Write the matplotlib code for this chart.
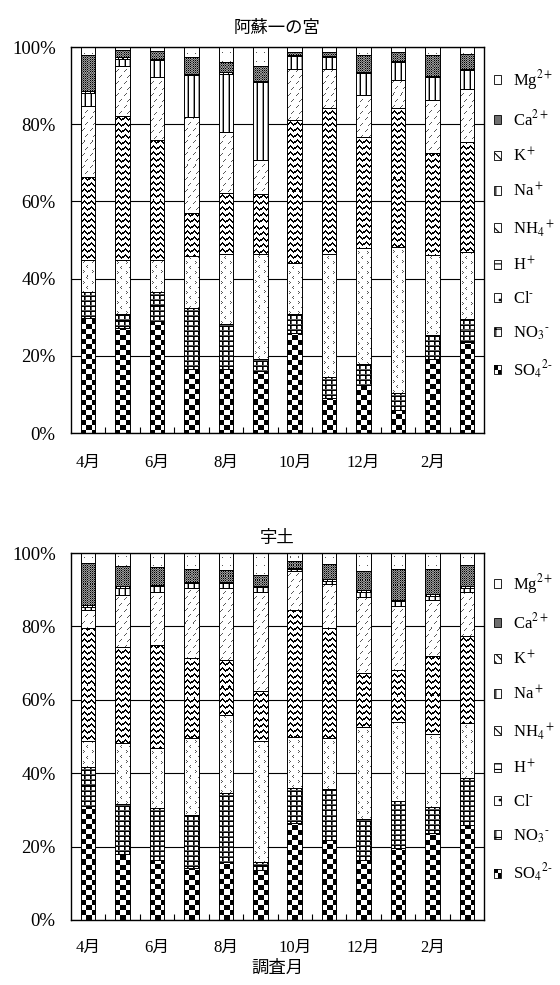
import numpy as np
import matplotlib
matplotlib.use('Agg')
import matplotlib.pyplot as plt
from matplotlib.patches import Patch, Rectangle
from matplotlib.legend_handler import HandlerBase
from matplotlib.ticker import FixedLocator

plt.rcParams['font.family'] = ['Liberation Serif', 'Noto Sans CJK JP']
plt.rcParams['mathtext.fontset'] = 'stix'
plt.rcParams['hatch.linewidth'] = 0.8

months = ['4月', '5月', '6月', '7月', '8月', '9月', '10月', '11月', '12月', '1月', '2月', '3月']
# stacking order, bottom to top
labels = [r'SO$_4$$^{2\text{-}}$', r'NO$_3$$^{\text{-}}$', r'Cl$^{\text{-}}$', r'H$^+$', r'NH$_4$$^+$',
          r'Na$^+$', r'K$^+$', r'Ca$^{2+}$', r'Mg$^{2+}$']

# 阿蘇一の宮 : ion composition (%)
aso_so4 = [29.8, 27.2, 28.9, 16.7, 16.7, 16.1, 25.8, 9.0, 12.4, 6.0, 19.3, 23.6]
aso_no3 = [6.7, 3.7, 7.6, 15.7, 11.6, 3.0, 5.1, 5.6, 5.6, 4.3, 6.2, 6.0]
aso_cl = [8.4, 13.9, 8.4, 13.4, 18.1, 27.3, 13.1, 31.8, 29.8, 38.0, 20.6, 17.2]
aso_h = [21.5, 37.3, 31.1, 11.1, 15.8, 15.4, 37.1, 37.7, 29.0, 35.8, 26.4, 28.7]
aso_nh4 = [18.4, 12.9, 16.1, 24.9, 15.7, 9.0, 13.1, 10.1, 10.8, 7.3, 13.8, 13.5]
aso_na = [3.2, 2.0, 4.5, 10.9, 15.2, 20.2, 3.4, 3.2, 5.7, 4.7, 6.0, 5.0]
aso_k = [0.5, 0.3, 0.3, 0.3, 0.3, 0.3, 0.3, 0.3, 0.3, 0.3, 0.3, 0.3]
aso_ca = [9.4, 1.8, 2.1, 4.3, 2.7, 3.7, 0.8, 1.0, 4.3, 2.3, 5.3, 3.8]
aso_mg = [2.1, 0.9, 1.0, 2.7, 3.9, 5.0, 1.3, 1.3, 2.1, 1.3, 2.1, 1.9]

# 宇土 : ion composition (%)
uto_so4 = [31.1, 17.9, 16.4, 14.1, 15.9, 13.6, 26.4, 21.8, 16.4, 19.5, 23.6, 25.9]
uto_no3 = [10.7, 13.6, 14.1, 14.4, 18.6, 2.3, 9.5, 13.9, 11.1, 13.0, 7.3, 12.7]
uto_cl = [7.1, 16.7, 16.3, 21.0, 21.4, 33.0, 14.1, 13.8, 25.2, 21.4, 19.8, 15.0]
uto_h = [30.6, 26.3, 28.0, 21.9, 15.0, 13.4, 34.5, 30.0, 14.6, 14.3, 21.3, 23.9]
uto_nh4 = [5.0, 14.1, 14.5, 19.1, 19.6, 27.0, 10.5, 12.1, 20.7, 17.4, 15.1, 11.8]
uto_na = [0.8, 1.9, 1.6, 1.3, 1.3, 1.3, 0.7, 0.8, 1.3, 1.2, 1.3, 1.2]
uto_k = [0.5, 0.5, 0.5, 0.4, 0.4, 0.4, 0.3, 0.4, 0.5, 0.5, 0.5, 0.5]
uto_ca = [11.5, 5.4, 4.8, 3.4, 3.3, 3.1, 1.7, 4.3, 5.2, 8.3, 6.7, 5.8]
uto_mg = [2.7, 3.6, 3.8, 4.4, 4.5, 5.9, 2.3, 2.9, 5.0, 4.4, 4.4, 3.2]

# fill textures, one screen pixel per character
SHADE = {'#': 0.0, '*': 0.35, '+': 0.6, ':': 0.88, '.': 1.0}
TILES = [
    ["#####....."] * 5 + [".....#####"] * 5,                       # SO4 checker
    ["...#*", "...#*", "...#*", "#####", "*****"],                 # NO3 grid
    ["........", "..*.....", "...*....", "..*.....", "........",
     "........", "......*.", ".....*..", "......*.", "........"],  # Cl
    ["#.....", "##...#", ".##.##", "..###.", "...#..", "......"],  # H wave
    [".......", ".*.....", "..*....", "...*...", ".......", ".......",
     ".......", "....*..", ".....*.", "......*", ".......", "......."],  # NH4
    ["...+#"],                                                     # Na
    ["#...", ".#..", "..#.", "...#"],                              # K
    ["#+", "+*"],                                                  # Ca
    [".......", ".......", ".......", "...*...", ".......", ".......",
     ".......", "......."],                                        # Mg
]
TILES = [np.array([[SHADE[ch] for ch in row] for row in t]) for t in TILES]

legend_style = [None, dict(hatch='++'), dict(hatch='..'), dict(hatch='---'), dict(hatch='\\'),
                dict(hatch='||'), dict(hatch='\\\\\\\\'), dict(facecolor='#6e6e6e'), dict()]


class CheckerHandler(HandlerBase):
    def create_artists(self, legend, orig_handle, xdescent, ydescent, width, height, fontsize, trans):
        x0, y0 = -xdescent, -ydescent
        arts = []
        for dx, dy in [(0, 1), (1, 0)]:
            arts.append(Rectangle((x0 + dx * width / 2, y0 + dy * height / 2), width / 2, height / 2,
                                  facecolor='black', linewidth=0, transform=trans))
        arts.append(Rectangle((x0, y0), width, height, fill=False, edgecolor='black',
                              linewidth=0.6, transform=trans))
        return arts


def fill_tile(ax, rect, tile):
    bb = rect.get_window_extent()
    w, h = int(round(bb.width)), int(round(bb.height))
    if w < 1 or h < 1:
        return
    r = (int(round(bb.y1)) - 1 - np.arange(h)) % tile.shape[0]
    c = np.arange(w) % tile.shape[1]
    img = tile[np.ix_(r, c)]
    x, y = rect.get_x(), rect.get_y()
    ax.imshow(img, cmap='gray', vmin=0, vmax=1, interpolation='nearest', aspect='auto',
              extent=(x, x + rect.get_width(), y, y + rect.get_height()), zorder=2)


def panel(ax, title, series, legend_y):
    x = np.arange(len(months))
    ax.set_xlim(-0.5, len(months) - 0.5)
    ax.set_ylim(0, 100)
    ax.set_autoscale_on(False)
    bottom = np.zeros(len(months))
    for vals, tile in zip(series, TILES):
        bars = ax.bar(x, vals, 0.42, bottom=bottom, fill=False, edgecolor='black',
                      linewidth=0.7, zorder=3)
        for b in bars:
            fill_tile(ax, b, tile)
        bottom += np.array(vals)

    ax.set_yticks(range(0, 101, 20))
    ax.set_yticklabels([f'{v}%' for v in range(0, 101, 20)], fontsize=13.5)
    ax.yaxis.grid(True, color='black', linewidth=0.8)
    ax.set_axisbelow(True)
    ax.tick_params(axis='y', length=0, pad=11)
    ax.set_xticks(x[::2])
    ax.set_xticklabels(months[::2], fontsize=12)
    ax.xaxis.set_minor_locator(FixedLocator(x[:-1] + 0.5))
    ax.tick_params(axis='x', which='major', length=0)
    ax.tick_params(axis='x', which='minor', direction='in', length=4, width=0.8)
    for s in ax.spines.values():
        s.set_linewidth(1.0)
    ax.set_title(title, fontsize=12.5, pad=10)

    handles = []
    for lab, st in zip(labels, legend_style):
        if st is None:
            handles.append(Patch(facecolor='white', edgecolor='black', label=lab))
        else:
            handles.append(Patch(**{'facecolor': 'white', 'edgecolor': 'black', **st}, linewidth=0.6, label=lab))
    ax.legend(handles=handles[::-1], loc='upper left', bbox_to_anchor=(1.016, legend_y),
              borderaxespad=0, borderpad=0.2, frameon=False, fontsize=12,
              handlelength=0.45, handleheight=0.45, handletextpad=0.7, labelspacing=1.02,
              handler_map={handles[0]: CheckerHandler()})


fig = plt.figure(figsize=(5.6, 9.85), dpi=100)
ax1 = fig.add_axes([71 / 560, 1 - 433 / 985, 413 / 560, 386 / 985])
ax2 = fig.add_axes([71 / 560, 1 - 920 / 985, 413 / 560, 367 / 985])

panel(ax1, '阿蘇一の宮', [aso_so4, aso_no3, aso_cl, aso_h, aso_nh4, aso_na, aso_k, aso_ca, aso_mg], 0.953)
panel(ax2, '宇土', [uto_so4, uto_no3, uto_cl, uto_h, uto_nh4, uto_na, uto_k, uto_ca, uto_mg], 0.958)
ax1.tick_params(axis='x', which='major', pad=16)
ax2.tick_params(axis='x', which='major', pad=14)
ax2.set_title('宇土', fontsize=12.5, pad=7)
ax2.set_xlabel('調査月', fontsize=12.5, labelpad=4)

fig.savefig('out.png', dpi=100)
